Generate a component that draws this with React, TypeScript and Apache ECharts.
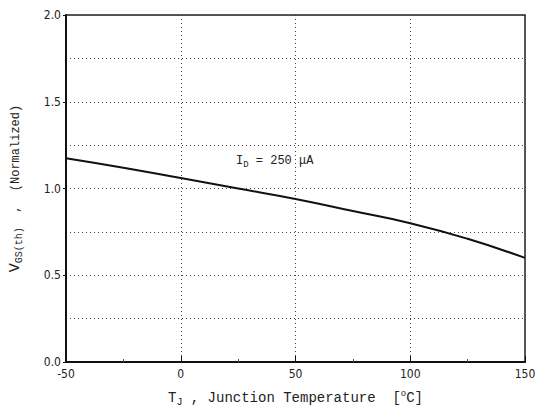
import React, { useEffect, useRef } from "react";
import * as echarts from "echarts";

const temperatures = [-50, -25, 0, 25, 50, 75, 100, 125, 150];
const vgsNormalized = [1.175, 1.12, 1.06, 1.0, 0.94, 0.87, 0.8, 0.71, 0.6];
const xTicks = [-50, 0, 50, 100, 150];
const yTicks = [0.0, 0.5, 1.0, 1.5, 2.0];

const mono = "Liberation Mono";
const sans = "DejaVu Sans Condensed";

export default function App() {
  const ref = useRef<HTMLDivElement>(null);
  useEffect(() => {
    document.body.style.margin = "0";
    const chart = echarts.init(ref.current!, null, { renderer: "svg" });
    chart.setOption({
      animation: false,
      backgroundColor: "#ffffff",
      grid: {
        left: 63,
        right: 14,
        top: 15,
        bottom: 54,
        show: true,
        borderColor: "#222",
        borderWidth: 1.5,
      },
      xAxis: {
        type: "value",
        min: xTicks[0],
        max: xTicks[xTicks.length - 1],
        interval: 50,
        name: "{a|T}{s|J}{a| , Junction Temperature  [}{sup|o}{a|C]}",
        nameLocation: "middle",
        nameGap: 27,
        nameTextStyle: {
          rich: {
            a: { fontFamily: mono, fontSize: 14, color: "#222" },
            s: { fontFamily: mono, fontSize: 10, color: "#222", verticalAlign: "bottom", padding: [8, 0, 0, 0] },
            sup: { fontFamily: mono, fontSize: 9, color: "#222", verticalAlign: "top", padding: [0, 0, 6, 0] },
          },
        },
        axisLine: { show: true, onZero: false, lineStyle: { color: "#111", width: 2 } },
        axisTick: { show: true, inside: true, length: 6, lineStyle: { color: "#111" } },
        minorTick: { show: true, splitNumber: 2, length: 3, lineStyle: { color: "#555" } },
        axisLabel: { color: "#222", fontFamily: sans, fontSize: 12, margin: 6 },
        splitLine: { show: true, lineStyle: { color: "#444", type: [1, 3], width: 1 } },
      },
      yAxis: {
        type: "value",
        min: yTicks[0],
        max: yTicks[yTicks.length - 1],
        interval: 0.5,
        name: "{v|V}{s|GS(th)}{a|  ,  (Normalized)}",
        nameLocation: "middle",
        nameGap: 42,
        nameTextStyle: {
          rich: {
            v: { fontFamily: mono, fontSize: 15, color: "#222" },
            a: { fontFamily: mono, fontSize: 12, color: "#222" },
            s: { fontFamily: mono, fontSize: 10, color: "#222", verticalAlign: "bottom", padding: [7, 0, 0, 0] },
          },
        },
        axisLine: { show: true, onZero: false, lineStyle: { color: "#111", width: 2 } },
        axisTick: { show: true, inside: false, length: 3, lineStyle: { color: "#111" } },
        axisLabel: {
          color: "#222",
          fontFamily: sans,
          fontSize: 12,
          margin: 5,
          formatter: (v: number) => v.toFixed(1),
        },
        splitLine: { show: true, lineStyle: { color: "#444", type: [1, 3], width: 1 } },
        minorTick: { show: false, splitNumber: 2 },
        minorSplitLine: { show: true, lineStyle: { color: "#444", type: [1, 3], width: 1 } },
      },
      graphic: [
        {
          type: "text",
          left: 236,
          top: 155,
          style: {
            text: "{a|I}{s|D}{a| = 250 μA}",
            rich: {
              a: { fontFamily: mono, fontSize: 12, fill: "#222" },
              s: { fontFamily: mono, fontSize: 9, fill: "#222", verticalAlign: "bottom", padding: [7, 0, 0, 0] },
            },
          },
        },
      ],
      series: [
        {
          type: "line",
          data: temperatures.map((t, i) => [t, vgsNormalized[i]]),
          smooth: true,
          showSymbol: false,
          lineStyle: { color: "#111", width: 2 },
        },
      ],
    });
    return () => chart.dispose();
  }, []);
  return <div ref={ref} style={{ width: 539, height: 416 }} />;
}
